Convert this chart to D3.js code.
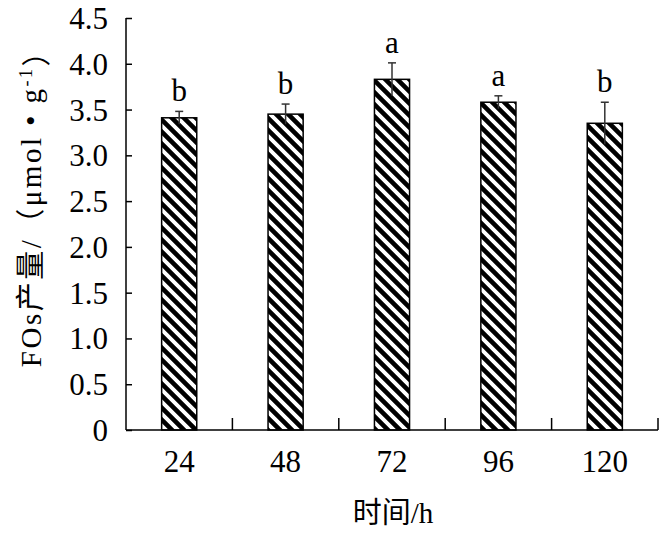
<!DOCTYPE html>
<html>
<head>
<meta charset="utf-8">
<script src="https://cdn.jsdelivr.net/npm/d3@7"></script>
<style>
  body { margin: 0; background: #fff; }
  text { font-family: "Liberation Serif", "Noto Sans CJK SC", serif; fill: #000; }
</style>
</head>
<body>
<div id="chart"></div>
<script>
// data
var hours = ["24", "48", "72", "96", "120"];
var means = [3.41, 3.45, 3.83, 3.58, 3.35];
var sds = [0.07, 0.11, 0.18, 0.07, 0.23];
var letters = ["b", "b", "a", "a", "b"];
var yTicks = [0, 0.5, 1.0, 1.5, 2.0, 2.5, 3.0, 3.5, 4.0, 4.5];

var W = 659, H = 535;
var margin = {left: 126, right: 1, top: 18, bottom: 105};

var svg = d3.select("#chart")
  .append("svg")
  .attr("width", W)
  .attr("height", H);

// stripe pattern for the bars
var defs = svg.append("defs");
var pat = defs.append("pattern")
  .attr("id", "stripes")
  .attr("patternUnits", "userSpaceOnUse")
  .attr("width", 12)
  .attr("height", 12);
pat.append("rect").attr("width", 12).attr("height", 12).attr("fill", "#fff");
pat.append("path")
  .attr("d", "M-6,0 L18,24 M-6,-12 L18,12 M-6,-24 L18,0")
  .attr("stroke", "#000")
  .attr("stroke-width", 4.6);

var x = d3.scaleBand()
  .domain(hours)
  .range([margin.left, W - margin.right])
  .paddingInner(0.67)
  .paddingOuter(0.335);

var y = d3.scaleLinear()
  .domain([0, 4.5])
  .range([H - margin.bottom, margin.top]);

var step = x.step();
var x0 = margin.left;

// bars
svg.selectAll(".bar")
  .data(hours)
  .enter()
  .append("rect")
  .attr("class", "bar")
  .attr("x", function(d) { return x(d) })
  .attr("y", function(d, i) { return y(means[i]) })
  .attr("width", x.bandwidth())
  .attr("height", function(d, i) { return y(0) - y(means[i]) })
  .attr("fill", "url(#stripes)")
  .attr("stroke", "#000")
  .attr("stroke-width", 1.5);

// error bars (mean +/- sd, cap on top)
var eb = svg.selectAll(".err")
  .data(hours)
  .enter()
  .append("g")
  .attr("class", "err")
  .attr("stroke", "#333")
  .attr("stroke-width", 1.5);
eb.append("line")
  .attr("x1", function(d) { return x(d) + x.bandwidth() / 2 })
  .attr("x2", function(d) { return x(d) + x.bandwidth() / 2 })
  .attr("y1", function(d, i) { return y(means[i] - sds[i]) })
  .attr("y2", function(d, i) { return y(means[i] + sds[i]) });
eb.append("line")
  .attr("x1", function(d) { return x(d) + x.bandwidth() / 2 - 4 })
  .attr("x2", function(d) { return x(d) + x.bandwidth() / 2 + 4 })
  .attr("y1", function(d, i) { return y(means[i] + sds[i]) })
  .attr("y2", function(d, i) { return y(means[i] + sds[i]) });

// significance letters
svg.selectAll(".sig")
  .data(hours)
  .enter()
  .append("text")
  .attr("class", "sig")
  .attr("x", function(d) { return x(d) + x.bandwidth() / 2 })
  .attr("y", function(d, i) { return y(means[i] + sds[i]) - 10 })
  .attr("text-anchor", "middle")
  .style("font-size", "31px")
  .text(function(d, i) { return letters[i] });

// y axis, ticks pointing inward
var yAxis = svg.append("g")
  .attr("transform", "translate(" + margin.left + ",0)")
  .call(d3.axisLeft(y)
    .tickValues(yTicks)
    .tickSize(-6)
    .tickPadding(18)
    .tickFormat(function(d) { return d === 0 ? "0" : d3.format(".1f")(d) }));
yAxis.select(".domain").attr("d", "M0," + y(4.5) + "V" + y(0)).attr("stroke-width", 1.5);
yAxis.selectAll(".tick line").attr("stroke-width", 1.5);
yAxis.selectAll("text").style("font-size", "31px").attr("dy", "0.34em");

// x axis, labels under bars, ticks on category boundaries
var xAxis = svg.append("g")
  .attr("transform", "translate(0," + y(0) + ")")
  .call(d3.axisBottom(x).tickSize(0).tickPadding(20));
xAxis.select(".domain").attr("d", "M" + x0 + ",0H" + (W - margin.right)).attr("stroke-width", 1.5);
xAxis.selectAll("text").style("font-size", "31px");
xAxis.selectAll(".sep")
  .data(hours)
  .enter()
  .append("line")
  .attr("class", "sep")
  .attr("x1", function(d) { return x(d) + x.bandwidth() / 2 + step / 2 })
  .attr("x2", function(d) { return x(d) + x.bandwidth() / 2 + step / 2 })
  .attr("y1", 0)
  .attr("y2", -12)
  .attr("stroke", "#000")
  .attr("stroke-width", 1.5);

// axis titles
svg.append("text")
  .attr("x", 393)
  .attr("y", 523)
  .attr("text-anchor", "middle")
  .style("font-size", "29px")
  .text("时间/h");

var yl = svg.append("text")
  .attr("transform", "translate(41,201) rotate(-90)")
  .attr("text-anchor", "middle")
  .style("font-size", "29px")
  .style("letter-spacing", "2.5px");
yl.append("tspan").text("FOs产量/（μmol • g");
yl.append("tspan").attr("dy", "-0.5em").style("font-size", "18px").text("-1");
yl.append("tspan").attr("dy", "0.5em").text("）");
</script>
</body>
</html>
